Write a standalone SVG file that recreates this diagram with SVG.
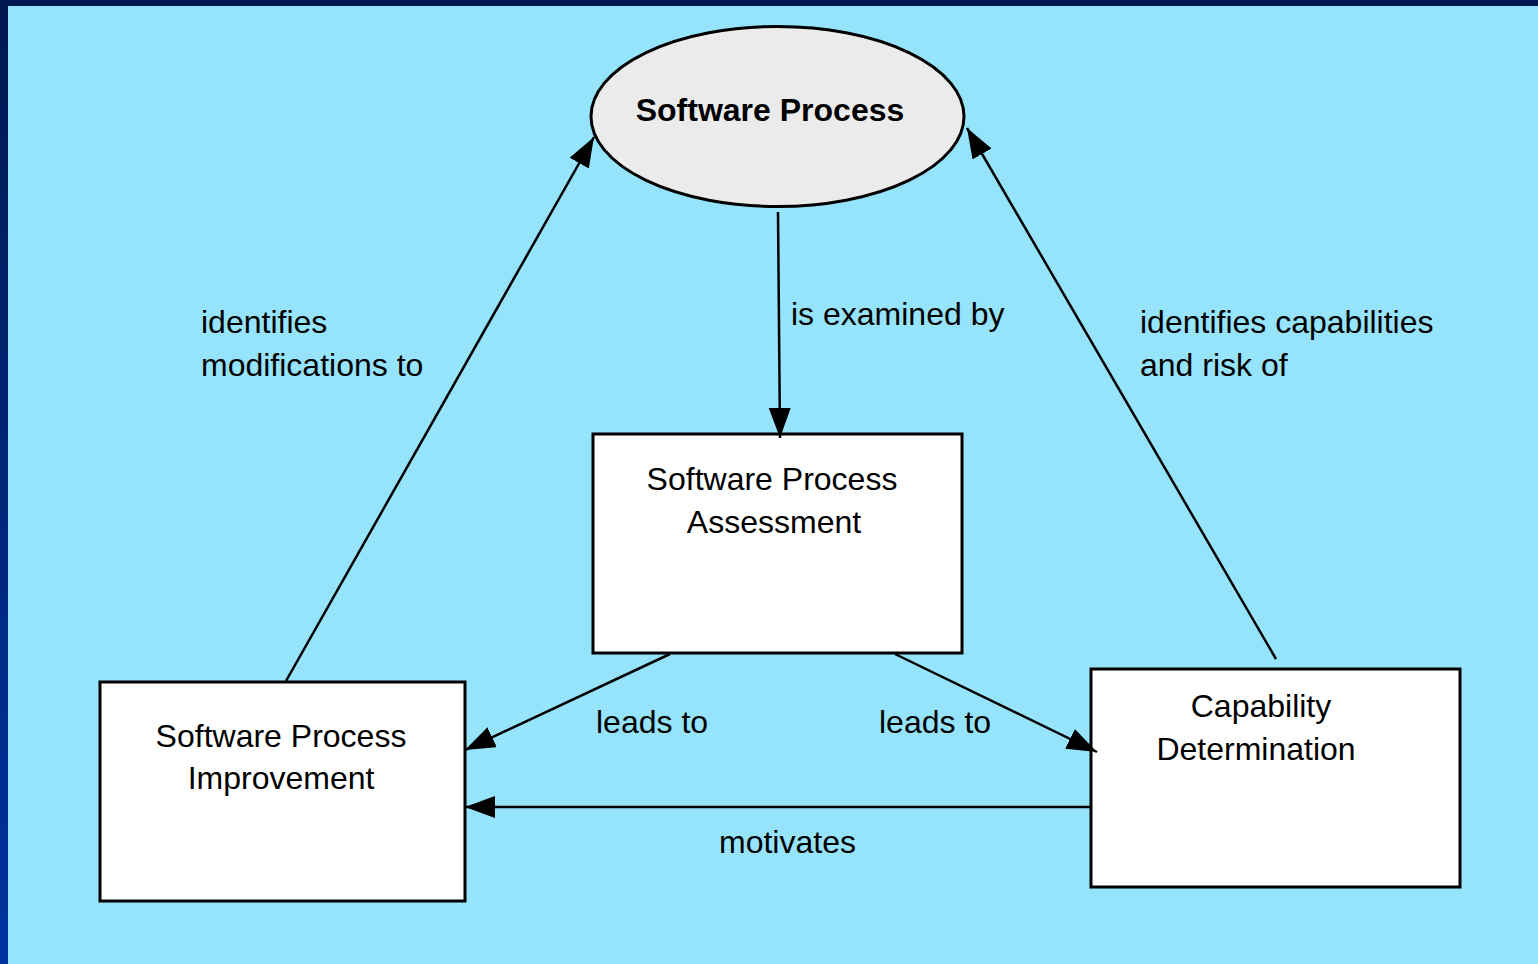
<svg xmlns="http://www.w3.org/2000/svg" width="1538" height="964" viewBox="0 0 1538 964">
<defs>
<linearGradient id="bd" x1="0" y1="0" x2="0" y2="1">
<stop offset="0" stop-color="#001850"/>
<stop offset="1" stop-color="#0033a0"/>
</linearGradient>
<marker id="ah" markerUnits="userSpaceOnUse" markerWidth="32" markerHeight="24" refX="30" refY="11" orient="auto">
<path d="M0,0 L30,11 L0,22 Z" fill="#000"/>
</marker>
<style>
.t{font-family:"Liberation Sans",Arial,sans-serif;font-size:32px;fill:#000}
.b{font-weight:bold}
.box{fill:#fff;stroke:#000;stroke-width:3}
.c{stroke:#000;stroke-width:2.5;fill:none;marker-end:url(#ah)}
</style>
</defs>
<rect x="0" y="0" width="1538" height="964" fill="url(#bd)"/>
<rect x="8" y="6" width="1530" height="958" fill="#96e3fc"/>

<g id="software-process">
<ellipse cx="777.5" cy="116.5" rx="186.5" ry="90" fill="#ebebeb" stroke="#000" stroke-width="3"/>
<text class="t b" x="770" y="121" text-anchor="middle">Software Process</text>
</g>

<g id="assessment">
<rect class="box" x="593" y="434" width="369" height="219"/>
<text class="t" x="772" y="490" text-anchor="middle">Software Process</text>
<text class="t" x="774" y="533" text-anchor="middle">Assessment</text>
</g>

<g id="improvement">
<rect class="box" x="100" y="682" width="365" height="219"/>
<text class="t" x="281" y="747" text-anchor="middle">Software Process</text>
<text class="t" x="281" y="789" text-anchor="middle">Improvement</text>
</g>

<g id="capability">
<rect class="box" x="1091" y="669" width="369" height="218"/>
<text class="t" x="1261" y="717" text-anchor="middle">Capability</text>
<text class="t" x="1256" y="760" text-anchor="middle">Determination</text>
</g>

<g id="connectors">
<line class="c" x1="778" y1="212" x2="780" y2="438"/>
<line class="c" x1="286" y1="681" x2="594" y2="137"/>
<line class="c" x1="1276" y1="659" x2="967" y2="128"/>
<line class="c" x1="670" y1="654" x2="465" y2="750"/>
<line class="c" x1="895" y1="654" x2="1097" y2="752"/>
<line class="c" x1="1091" y1="807" x2="465" y2="807"/>
</g>

<g id="labels">
<text class="t" x="201" y="333">identifies</text>
<text class="t" x="201" y="376">modifications to</text>
<text class="t" x="791" y="325">is examined by</text>
<text class="t" x="1140" y="333">identifies capabilities</text>
<text class="t" x="1140" y="376">and risk of</text>
<text class="t" x="596" y="733">leads to</text>
<text class="t" x="879" y="733">leads to</text>
<text class="t" x="719" y="853">motivates</text>
</g>
</svg>
